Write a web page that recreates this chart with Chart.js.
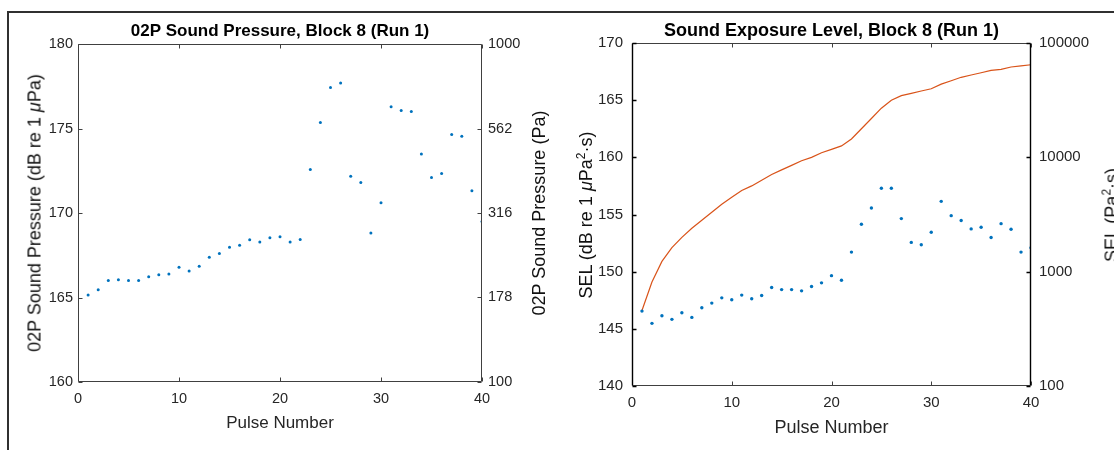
<!DOCTYPE html>
<html><head><meta charset="utf-8">
<script src="https://cdn.jsdelivr.net/npm/chart.js@4.4.1/dist/chart.umd.min.js"></script>
<style>
html,body{margin:0;padding:0;background:#fff;width:1114px;height:450px;overflow:hidden;position:relative;font-family:"Liberation Sans",Arial,sans-serif;}
#frame{position:absolute;left:7px;top:11px;width:1120px;height:450px;border-top:2px solid #303030;border-left:2px solid #303030;}
canvas{position:absolute;top:0;}
.yt{position:absolute;white-space:nowrap;font-size:18px;line-height:21px;color:#111;transform:translate(-50%,-50%) rotate(-90deg);}
.yt sup{font-size:12px;line-height:0;vertical-align:7px}
</style></head><body>
<div id="frame"></div>
<canvas id="c1" width="560" height="450" style="left:0"></canvas>
<canvas id="c2" width="543" height="450" style="left:560px"></canvas>
<div class="yt" style="left:35px;top:213px">02P Sound Pressure (dB re 1 <i>μ</i>Pa)</div>
<div class="yt" style="left:539px;top:213px">02P Sound Pressure (Pa)</div>
<div class="yt" style="left:586px;top:215px">SEL (dB re 1 <i>μ</i>Pa<sup>2</sup>·s)</div>
<div class="yt" style="left:1112px;top:215px">SEL (Pa<sup>2</sup>·s)</div>
<script>
// ---- data ----
const pulses = [1,2,3,4,5,6,7,8,9,10,11,12,13,14,15,16,17,18,19,20,21,22,23,24,25,26,27,28,29,30,31,32,33,34,35,36,37,38,39,40];
const splDb = [165.15,165.46,166.0,166.05,166.0,166.0,166.23,166.35,166.39,166.79,166.57,166.85,167.38,167.6,167.97,168.09,168.41,168.29,168.53,168.6,168.29,168.43,172.58,175.35,177.43,177.69,172.17,171.81,168.82,170.6,176.28,176.06,176.0,173.49,172.1,172.33,174.64,174.54,171.32,169.5];
const selDb = [146.55,145.48,146.15,145.83,146.41,146.0,146.84,147.25,147.71,147.54,147.95,147.63,147.91,148.61,148.43,148.43,148.32,148.7,149.02,149.65,149.25,151.71,154.15,155.57,157.3,157.3,154.64,152.56,152.35,153.45,156.15,154.9,154.47,153.74,153.89,152.99,154.2,153.71,151.71,152.09];
const cumSelDb = [146.6,149.1,150.9,152.1,153.0,153.8,154.5,155.2,155.9,156.5,157.1,157.5,158.0,158.5,158.9,159.3,159.7,160.0,160.4,160.7,161.0,161.6,162.5,163.4,164.3,165.0,165.4,165.6,165.8,166.0,166.4,166.7,167.0,167.2,167.4,167.6,167.7,167.9,168.0,168.1];
const xTicks = [0,10,20,30,40];
const splTicks = [160,165,170,175,180];
const paTicks = [100,178,316,562,1000];
const selTicks = [140,145,150,155,160,165,170];
const pa2sTicks = [100,1000,10000,100000];

const FF = '"Liberation Sans", Arial, sans-serif';
const TC = '#262626';

const boxTicks = {
  id:'boxTicks',
  afterDraw(chart, args, o){
    const {ctx, chartArea:a, scales} = chart;
    const L = Math.round(a.left)+0.5, R = Math.round(a.right)-0.5, T = Math.round(a.top)+0.5, B = Math.round(a.bottom)-0.5;
    const tl = 4;
    ctx.save();
    ctx.lineWidth = 1; ctx.strokeStyle = o.hColor;
    ctx.beginPath();
    ctx.moveTo(L,T); ctx.lineTo(R,T); ctx.moveTo(L,B); ctx.lineTo(R,B);
    scales.x.ticks.forEach(t=>{
      const px = Math.round(scales.x.getPixelForValue(t.value))+0.5;
      ctx.moveTo(px,B); ctx.lineTo(px,B-tl); ctx.moveTo(px,T); ctx.lineTo(px,T+tl);
    });
    ctx.stroke();
    ctx.strokeStyle = o.vColor; ctx.lineWidth = o.vWidth;
    ctx.beginPath();
    ctx.moveTo(L,T); ctx.lineTo(L,B); ctx.moveTo(R,T); ctx.lineTo(R,B);
    scales.y.ticks.forEach(t=>{
      const py = Math.round(scales.y.getPixelForValue(t.value))+0.5;
      ctx.moveTo(L,py); ctx.lineTo(L+tl,py);
    });
    scales.y2.ticks.forEach(t=>{
      const py = Math.round(scales.y2.getPixelForValue(t.value))+0.5;
      ctx.moveTo(R,py); ctx.lineTo(R-tl,py);
    });
    ctx.stroke();
    ctx.restore();
  }
};

function xScale(h, fs, tfs, titlePad, tickPad){
  return {type:'linear', min:0, max:40,
    afterBuildTicks:s=>{s.ticks = xTicks.map(v=>({value:v}));},
    grid:{display:false, drawTicks:false}, border:{display:false},
    ticks:{color:TC, font:{size:fs, family:FF}, padding:tickPad, maxRotation:0, autoSkip:false},
    title:{display:true, text:'Pulse Number', color:TC, font:{size:tfs, family:FF}, padding:{top:0,bottom:titlePad}},
    afterFit:s=>{s.height = h;}};
}
function yLin(min, max, list, w, fs, pad){
  return {type:'linear', position:'left', min, max,
    afterBuildTicks:s=>{s.ticks = list.map(v=>({value:v}));},
    grid:{display:false, drawTicks:false}, border:{display:false},
    ticks:{color:TC, font:{size:fs, family:FF}, padding:pad},
    afterFit:s=>{s.width = w;}};
}
function yLog(min, max, list, w, fs, pad){
  return {type:'logarithmic', position:'right', display:true, min, max,
    afterBuildTicks:s=>{s.ticks = list.map(v=>({value:v}));},
    grid:{display:false, drawTicks:false}, border:{display:false},
    ticks:{color:TC, font:{size:fs, family:FF}, padding:pad, callback:v=>String(v)},
    afterFit:s=>{s.width = w;}};
}
function titleOpt(text, fs, top, bottom){
  return {display:true, text, color:'#000', font:{size:fs, weight:'bold', family:FF, lineHeight:1.2}, padding:{top, bottom}};
}

new Chart(document.getElementById('c1'), {
  type:'scatter',
  data:{datasets:[{
    data: pulses.map((p,i)=>({x:p, y:splDb[i]})),
    yAxisID:'y', backgroundColor:'#0072BD', borderWidth:0, pointRadius:1.5, pointHoverRadius:1.5
  }]},
  options:{
    responsive:false, animation:false, devicePixelRatio:1,
    layout:{padding:0},
    plugins:{legend:{display:false}, tooltip:{enabled:false},
      title:titleOpt('02P Sound Pressure, Block 8 (Run 1)', 17, 21, 2.6),
      boxTicks:{hColor:'#404040', vColor:'#404040', vWidth:1}},
    scales:{
      x: xScale(68, 14.5, 17, 16.8, 8),
      y: yLin(160, 180, splTicks, 78, 14.5, 5),
      y2: yLog(100, 1000, paTicks, 78, 14.5, 6)
    }
  },
  plugins:[boxTicks]
});

new Chart(document.getElementById('c2'), {
  type:'scatter',
  data:{datasets:[
    {data: pulses.map((p,i)=>({x:p, y:selDb[i]})),
     yAxisID:'y', backgroundColor:'#0072BD', borderWidth:0, pointRadius:1.7, pointHoverRadius:1.7},
    {data: pulses.map((p,i)=>({x:p, y:cumSelDb[i]})),
     yAxisID:'y', showLine:true, borderColor:'#D95319', borderWidth:1.2, pointRadius:0, tension:0}
  ]},
  options:{
    responsive:false, animation:false, devicePixelRatio:1,
    layout:{padding:0},
    plugins:{legend:{display:false}, tooltip:{enabled:false},
      title:titleOpt('Sound Exposure Level, Block 8 (Run 1)', 18, 20, 1.4),
      boxTicks:{hColor:'#404040', vColor:'#000', vWidth:1.4}},
    scales:{
      x: xScale(64, 15, 18, 11.2, 8),
      y: yLin(140, 170, selTicks, 72, 15, 9),
      y2: yLog(100, 100000, pa2sTicks, 72, 15, 8)
    }
  },
  plugins:[boxTicks]
});
</script>
</body></html>
